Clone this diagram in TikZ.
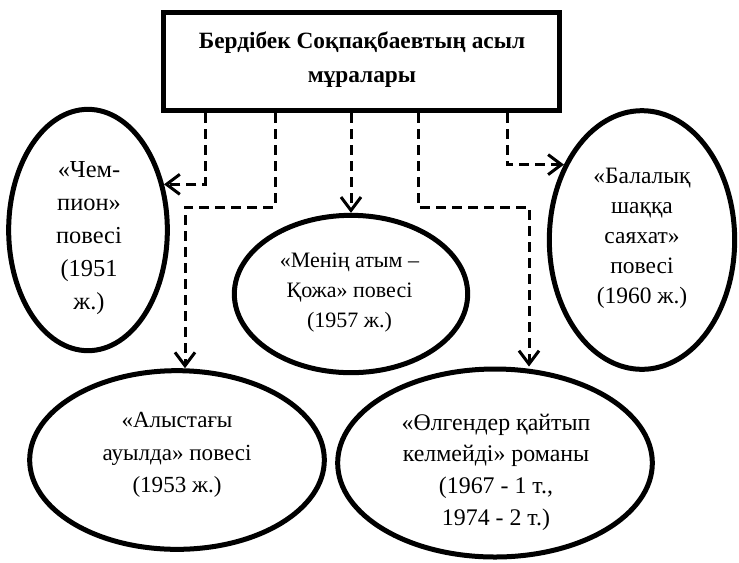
\documentclass[tikz,border=0pt]{standalone}
\usepackage{fontspec}
\setmainfont{Liberation Serif}
\usetikzlibrary{shapes.geometric,arrows.meta}
\begin{document}
\begin{tikzpicture}[x=0.75pt,y=-0.75pt,
  ell/.style={ellipse, draw, line width=3.75pt, inner sep=0pt},
  txt/.style 2 args={align=center, inner sep=0pt, font=\fontsize{#1}{#2}\selectfont},
  conn/.style={draw, line width=2.25pt, dash pattern=on 7.5pt off 4.5pt,
    -{Straight Barb[length=10pt,width=15pt]}},
  titlebox/.style={rectangle, draw, line width=3.75pt, inner sep=0pt}]
\useasboundingbox (0,0) rectangle (739,562);

\node[titlebox, minimum width=297pt, minimum height=73.5pt] (title) at (361.5,61.5) {};
\node[align=center, inner sep=0pt, font=\fontsize{17.5}{25.5}\selectfont\bfseries] (titlet) at (362,59.5)
  {Бердібек Соқпақбаевтың асыл\\мұралары};

\node[ell, minimum width=119pt, minimum height=181pt] (chemp) at (88,230) {};
\node[txt={18.3}{24.75}] (chempt) at (89,238) {«Чем-\\пион»\\повесі\\(1951\\ж.)};

\node[ell, minimum width=139pt, minimum height=194pt] (bal) at (642,240) {};
\node[txt={17.6}{22.5}] (balt) at (642,238) {«Балалық\\шаққа\\саяхат»\\повесі\\(1960 ж.)};

\node[ell, minimum width=175pt, minimum height=118pt] (menin) at (351,294) {};
\node[txt={16.5}{22.5}] (menint) at (349.5,292.5) {«Менің атым –\\Қожа» повесі\\(1957 ж.)};

\node[ell, minimum width=221pt, minimum height=134pt] (alys) at (177,460) {};
\node[txt={17.3}{24.4}] (alyst) at (177,455) {«Алыстағы\\ауылда» повесі\\(1953 ж.)};

\node[ell, minimum width=236pt, minimum height=141pt] (olg) at (495,463) {};
\node[txt={17.9}{23.75}] (olgt) at (496,472) {«Өлгендер қайтып\\келмейді» романы\\(1967 - 1 т.,\\1974 - 2 т.)};

\coordinate (k1) at (205,183);
\coordinate (t2) at (275,207);
\coordinate (j2) at (185,207);
\coordinate (t4) at (418,207);
\coordinate (j4) at (529,207);
\coordinate (k5) at (507,165);

\draw[conn] (title.south -| k1) |- (chemp.31.7);
\draw[conn] (title.south -| t2) -- (t2) -- (j2) -- (alys.north -| j2);
\draw[conn] (title.south -| menin.north) -- (menin.north);
\draw[conn] (title.south -| t4) -- (t4) -- (j4) -- (olg.north -| j4);
\draw[conn] (title.south -| k5) |- (bal.136);
\end{tikzpicture}
\end{document}
